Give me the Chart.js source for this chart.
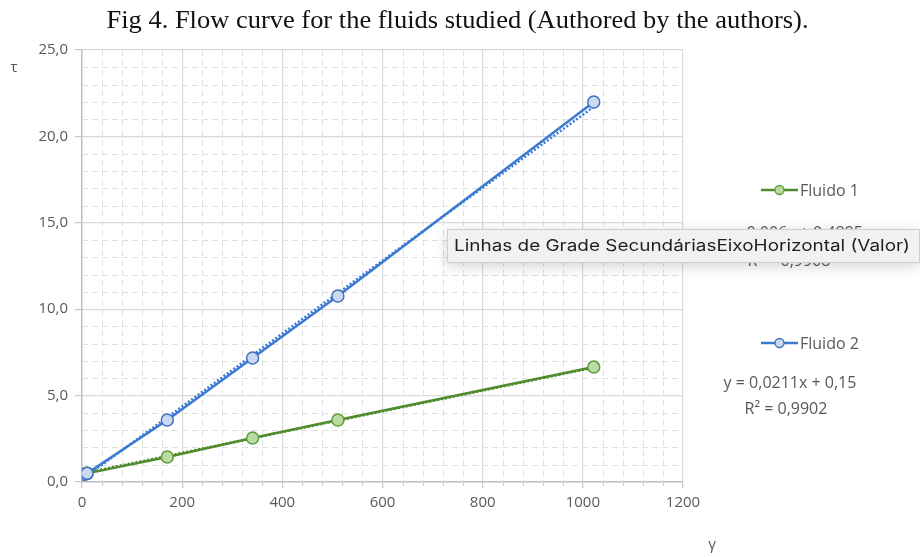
<!DOCTYPE html>
<html><head><meta charset="utf-8">
<script src="https://cdn.jsdelivr.net/npm/chart.js@4"></script>
<style>html,body{margin:0;padding:0;background:#fff;} #wrap{width:920px;height:557px;position:relative;}</style>
</head><body><div id="wrap"><canvas id="c" width="920" height="557"></canvas></div>
<script>
// ---- data ----
const shearRate = [5.11, 10.22, 170.3, 340.6, 510.9, 1021.8];
const fluido1 = [0.45, 0.50, 1.45, 2.55, 3.59, 6.65];
const fluido2 = [0.45, 0.50, 3.59, 7.18, 10.76, 21.99];
const trendX = [5.11, 1021.8];
const trend1 = [0.52, 6.62];
const trend2 = [0.26, 21.71];
const seriesNames = ['Fluido 1', 'Fluido 2'];
const trendLabels1 = ['y = 0,006x + 0,4895', 'R² = 0,9968'];
const trendLabels2 = ['y = 0,0211x + 0,15', 'R² = 0,9902'];
const titleText = 'Fig 4. Flow curve for the fluids studied (Authored by the authors).';
const xAxisTitle = 'γ';
const yAxisTitle = 'τ';
const tooltipText = 'Linhas de Grade SecundáriasEixoHorizontal (Valor)';
const xRange = [0, 1200], xMajor = 200, xMinor = 40;
const yRange = [0, 25], yMajor = 5, yMinor = 1;

const GREEN = '#4f8c2e', GREEN_FILL = '#bcdaa3', GREEN_PT = '#5e9d3e';
const BLUE = '#3c7ad2', BLUE_FILL = '#cbd8f0', BLUE_PT = '#4170bf';
const TXT = '#595959';
const FONT = '"Open Sans", sans-serif';

const pts = (xs, ys) => xs.map((x, i) => ({x, y: ys[i]}));

const minorGrid = {
  id: 'minorGrid',
  beforeDatasetsDraw(chart) {
    const {ctx, chartArea: a, scales: {x, y}} = chart;
    ctx.save();
    ctx.strokeStyle = '#e0e0e0';
    ctx.lineWidth = 1;
    ctx.setLineDash([6, 4]);
    for (let v = xRange[0]; v <= xRange[1]; v += xMinor) {
      if (v % xMajor === 0) continue;
      const px = Math.round(x.getPixelForValue(v)) + 0.5;
      ctx.beginPath(); ctx.moveTo(px, a.top); ctx.lineTo(px, a.bottom); ctx.stroke();
    }
    for (let v = yRange[0]; v <= yRange[1]; v += yMinor) {
      if (v % yMajor === 0) continue;
      const py = Math.round(y.getPixelForValue(v)) + 0.5;
      ctx.beginPath(); ctx.moveTo(a.left, py); ctx.lineTo(a.right, py); ctx.stroke();
    }
    ctx.setLineDash([]);
    ctx.strokeStyle = '#c8c8c8';
    for (let v = xRange[0]; v <= xRange[1]; v += xMinor) {
      if (v % xMajor === 0) continue;
      const px = Math.round(x.getPixelForValue(v)) + 0.5;
      ctx.beginPath(); ctx.moveTo(px, a.bottom); ctx.lineTo(px, a.bottom + 4); ctx.stroke();
    }
    ctx.restore();
  }
};

function fitText(ctx, text, cx, cy, width) {
  const w = ctx.measureText(text).width;
  ctx.save();
  ctx.translate(cx, cy);
  ctx.scale(width / w, 1);
  ctx.textAlign = 'center';
  ctx.fillText(text, 0, 0);
  ctx.restore();
}

const annotations = {
  id: 'annotations',
  afterDraw(chart) {
    const ctx = chart.ctx;
    ctx.save();
    // title
    ctx.fillStyle = '#111';
    ctx.font = '25px "Liberation Serif", "Times New Roman", Times, serif';
    ctx.textBaseline = 'middle';
    fitText(ctx, titleText, 457.5, 21, 702);
    // axis titles
    ctx.fillStyle = TXT;
    ctx.font = '15px ' + FONT;
    ctx.textAlign = 'center';
    ctx.fillText(yAxisTitle, 14, 68);
    ctx.fillText(xAxisTitle, 712, 545);
    // legend
    const legend = [
      {name: seriesNames[0], y: 190, line: GREEN, fill: GREEN_FILL, pt: GREEN_PT},
      {name: seriesNames[1], y: 343, line: BLUE, fill: BLUE_FILL, pt: BLUE_PT}
    ];
    ctx.font = '16px ' + FONT;
    ctx.textAlign = 'left';
    for (const L of legend) {
      ctx.strokeStyle = L.line; ctx.lineWidth = 2.5;
      ctx.beginPath(); ctx.moveTo(761, L.y); ctx.lineTo(798, L.y); ctx.stroke();
      ctx.beginPath(); ctx.arc(779.5, L.y, 4.5, 0, Math.PI * 2);
      ctx.fillStyle = L.fill; ctx.fill();
      ctx.lineWidth = 1.3; ctx.strokeStyle = L.pt; ctx.stroke();
      ctx.fillStyle = TXT;
      ctx.fillText(L.name, 800, L.y + 1);
    }
    // trendline labels
    ctx.textAlign = 'center';
    ctx.fillText(trendLabels1[0], 792, 233);
    ctx.fillText(trendLabels1[1], 789, 261);
    ctx.fillText(trendLabels2[0], 790, 383);
    ctx.fillText(trendLabels2[1], 786, 409);
    // tooltip overlay
    ctx.shadowColor = 'rgba(0,0,0,0.18)';
    ctx.shadowBlur = 14;
    ctx.shadowOffsetY = 3;
    ctx.fillStyle = '#f1f1f1';
    ctx.fillRect(447, 229, 472, 34);
    ctx.shadowColor = 'transparent';
    ctx.strokeStyle = '#cfcfcf'; ctx.lineWidth = 1;
    ctx.strokeRect(447.5, 229.5, 472, 33);
    ctx.fillStyle = '#1e1e1e';
    ctx.font = '16px Inter, "Liberation Sans", sans-serif';
    fitText(ctx, tooltipText, 682, 246, 456);
    ctx.restore();
  }
};

new Chart(document.getElementById('c'), {
  type: 'scatter',
  data: {
    datasets: [
      {label: seriesNames[0], data: pts(shearRate, fluido1), showLine: true,
       borderColor: GREEN, borderWidth: 2.5, pointRadius: 6, pointBorderWidth: 1.5,
       pointBackgroundColor: GREEN_FILL, pointBorderColor: GREEN_PT, order: 1},
      {label: seriesNames[1], data: pts(shearRate, fluido2), showLine: true,
       borderColor: BLUE, borderWidth: 2.5, pointRadius: 6, pointBorderWidth: 1.5,
       pointBackgroundColor: BLUE_FILL, pointBorderColor: BLUE_PT, order: 0},
      {label: 'trend1', data: pts(trendX, trend1), showLine: true, borderColor: GREEN,
       borderWidth: 2.5, borderDash: [2, 2], pointRadius: 0, order: 3},
      {label: 'trend2', data: pts(trendX, trend2), showLine: true, borderColor: BLUE,
       borderWidth: 2.5, borderDash: [2, 2], pointRadius: 0, order: 2}
    ]
  },
  options: {
    responsive: false, animation: false, devicePixelRatio: 1,
    layout: {padding: {top: 50, right: 237, bottom: 35, left: 0}},
    plugins: {legend: {display: false}, tooltip: {enabled: false}, title: {display: false}},
    scales: {
      x: {
        type: 'linear', min: xRange[0], max: xRange[1],
        afterFit: s => { s.height = 40; },
        ticks: {stepSize: xMajor, color: TXT, font: {family: FONT, size: 15}, padding: 6, maxRotation: 0,
          callback: v => String(v)},
        grid: {color: '#d9d9d9', lineWidth: 1.2, tickLength: 6, tickColor: '#c8c8c8'},
        border: {color: '#bfbfbf', width: 1.5}
      },
      y: {
        type: 'linear', min: yRange[0], max: yRange[1],
        afterFit: s => { s.width = 82; },
        ticks: {stepSize: yMajor, color: TXT, font: {family: FONT, size: 15}, padding: 7,
          callback: v => v.toFixed(1).replace('.', ',')},
        grid: {color: '#d9d9d9', lineWidth: 1.2, tickLength: 7, tickColor: '#c8c8c8'},
        border: {color: '#bfbfbf', width: 1.5}
      }
    }
  },
  plugins: [minorGrid, annotations]
});
</script></body></html>
